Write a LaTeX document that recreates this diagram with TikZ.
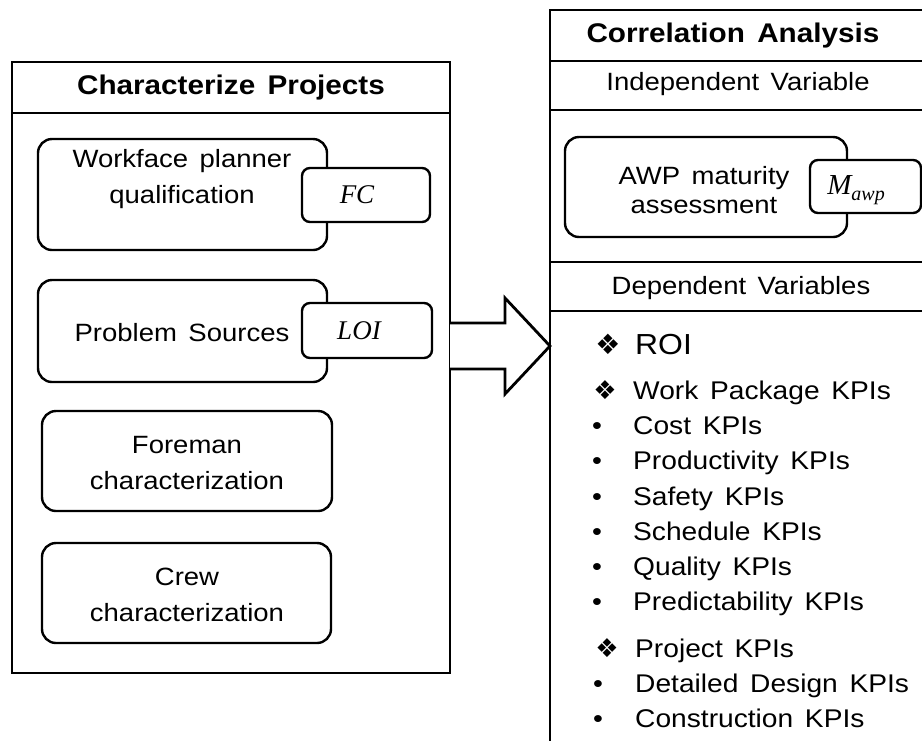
\documentclass[tikz,border=0pt]{standalone}
\usepackage{fontspec}
\setmainfont[FakeStretch=1.1,WordSpace=1.5]{Liberation Sans}
\newfontfamily\symfont{DejaVu Sans}
\newfontfamily\mathlike{Liberation Serif}
\begin{document}
\begin{tikzpicture}[x=1pt,y=-1pt,
  frame/.style={draw, line width=2.8pt, rectangle, inner sep=0pt},
  divider/.style={line width=2.8pt},
  rbox/.style={draw, line width=2.4pt, rounded corners=14pt, inner sep=0pt},
  tag/.style={draw, line width=2.4pt, rounded corners=8pt, fill=white, inner sep=0pt},
  txt/.style={font=\fontsize{25}{36}\selectfont, align=center, inner sep=0pt},
  title/.style={font=\fontsize{27}{32}\selectfont\bfseries, inner sep=0pt},
  mtxt/.style={font=\fontsize{27}{30}\selectfont\mathlike\itshape, inner sep=0pt},
  item/.style={font=\fontsize{25.6}{30}\selectfont, anchor=base west, inner sep=0pt},
  bul/.style={font=\fontsize{25.6}{30}\selectfont, anchor=base, inner sep=0pt},
  dia/.style={font=\fontsize{28}{30}\selectfont\symfont, inner sep=0pt},
  bigarrow/.style={draw, line width=2.8pt, fill=white, line join=miter}
]
\useasboundingbox (0,0) rectangle (922,740);

% ---------- left frame ----------
\node[frame, minimum width=438pt, minimum height=611pt] (L) at (231,367.5) {};
\draw[divider] (12,113) -- (450,113);
\node[title] (Lt) at (231,88) {Characterize Projects};

\node[rbox, minimum width=289pt, minimum height=111pt] (wp) at (182.5,194.5) {};
\node[txt] (wpt) at (182,179) {Workface planner\\qualification};
\node[tag, minimum width=128pt, minimum height=54pt] (fc) at (366,195) {};
\node[mtxt] (fct) at (357,195) {FC};

\node[rbox, minimum width=289pt, minimum height=102pt] (ps) at (182.5,331) {};
\node[txt] (pst) at (182,333) {Problem Sources};
\node[tag, minimum width=130pt, minimum height=55pt] (loi) at (367,330.5) {};
\node[mtxt] (loit) at (359,331) {LOI};

\node[rbox, minimum width=290pt, minimum height=100pt] (fm) at (187,461) {};
\node[txt] (fmt) at (187,463) {Foreman\\characterization};

\node[rbox, minimum width=289pt, minimum height=100pt] (cr) at (186.5,593) {};
\node[txt] (crt) at (187,595) {Crew\\characterization};

% ---------- big arrow ----------
\draw[bigarrow] (450,323) -- (505,323) -- (505,298) -- (550,346) -- (505,394) -- (505,369) -- (450,369);

% ---------- right frame ----------
\node[frame, minimum width=380pt, minimum height=760pt] (R) at (740,390) {};
\draw[divider] (550,61) -- (930,61);
\draw[divider] (550,110) -- (930,110);
\draw[divider] (550,262) -- (930,262);
\draw[divider] (550,311) -- (930,311);
\node[title] (Rt) at (733,36) {Correlation Analysis};
\node[txt] (iv) at (738,84) {Independent Variable};

\node[rbox, minimum width=282pt, minimum height=100pt] (awp) at (706,187) {};
\node[txt, font=\fontsize{25}{29}\selectfont] (awpt) at (704,190) {AWP maturity\\assessment};
\node[tag, minimum width=111pt, minimum height=53pt] (mawp) at (865.5,186.5) {};
\node[mtxt, font=\fontsize{29}{30}\selectfont\mathlike\itshape] (mt) at (856,190) {M\raisebox{-6pt}{\fontsize{20}{20}\selectfont awp}};

\node[txt] (dv) at (741,288) {Dependent Variables};

% ---------- list ----------
\node[dia] (d0) at (608,344) {❖};
\node[item, font=\fontsize{29}{32}\selectfont] (roi) at (635,354) {ROI};
\node[dia, font=\fontsize{26}{30}\selectfont\symfont] (d1) at (605,390) {❖};
\node[item] (i1) at (633,399) {Work Package KPIs};
\node[bul] (b2) at (597,434) {•};
\node[item] (i2) at (633,434) {Cost KPIs};
\node[bul] (b3) at (597,469) {•};
\node[item] (i3) at (633,469) {Productivity KPIs};
\node[bul] (b4) at (597,505) {•};
\node[item] (i4) at (633,505) {Safety KPIs};
\node[bul] (b5) at (597,540) {•};
\node[item] (i5) at (633,540) {Schedule KPIs};
\node[bul] (b6) at (597,575) {•};
\node[item] (i6) at (633,575) {Quality KPIs};
\node[bul] (b7) at (597,610) {•};
\node[item] (i7) at (633,610) {Predictability KPIs};
\node[dia, font=\fontsize{26}{30}\selectfont\symfont] (d8) at (607,648) {❖};
\node[item] (i8) at (635,657) {Project KPIs};
\node[bul] (b9) at (598,692) {•};
\node[item] (i9) at (635,692) {Detailed Design KPIs};
\node[bul] (b10) at (598,727) {•};
\node[item] (i10) at (635,727) {Construction KPIs};
\end{tikzpicture}
\end{document}
